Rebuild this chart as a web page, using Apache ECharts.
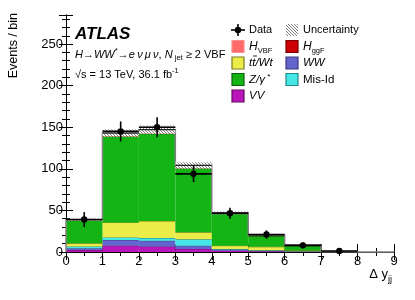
<!DOCTYPE html>
<html><head><meta charset="utf-8">
<script src="https://cdn.jsdelivr.net/npm/echarts@6/dist/echarts.min.js"></script>
<style>html,body{margin:0;padding:0;background:#fff}#c{width:415px;height:300px}</style>
</head><body><div id="c"></div>
<script>
// ---- data ----
const binLo = [0, 1, 2, 3, 4, 5, 6, 7, 8];
const binHi = [1, 2, 3, 4, 5, 6, 7, 8, 9];
const vvVals    = [2.3, 7.5, 6.5, 3.6, 1.5, 0.8, 0.3, 0.05, 0];
const wwVals    = [2.3, 7.0, 7.0, 4.0, 1.5, 1.0, 0.5, 0.1, 0];
const misidVals = [2.0, 3.0, 3.2, 7.6, 0.6, 0.4, 0.2, 0.0, 0];
const ttbarVals = [3.8, 18.0, 20.5, 8.5, 4.0, 4.0, 0.7, 0.1, 0];
const zVals     = [27.5, 103.5, 105.0, 77.0, 38.0, 13.0, 5.8, 0.3, 0.05];
const hggfVals  = [0.6, 2.5, 3.0, 2.0, 0.6, 0.3, 0.1, 0.0, 0];
const hvbfVals  = [0.4, 1.5, 2.0, 1.5, 0.8, 0.7, 0.4, 0.1, 0];
const uncVals   = [1.2, 4.2, 5.0, 3.8, 1.6, 1.0, 0.5, 0.2, 0];
const dataX     = [0.5, 1.5, 2.5, 3.5, 4.5, 5.5, 6.5, 7.5];
const dataVals  = [39, 145, 150, 94, 46.6, 21, 8, 1.2];
const dataErr   = [9, 12, 12, 10, 6.5, 5, 3.5, 1.5];
const yTicks = [0, 50, 100, 150, 200, 250];
const xTicks = [0, 1, 2, 3, 4, 5, 6, 7, 8, 9];

// ---- styles ----
const procs = [
  {vals: vvVals,    fill: '#bb16bb', stroke: '#6a0a6a'},
  {vals: wwVals,    fill: '#6464cf', stroke: '#30306a'},
  {vals: misidVals, fill: '#44e6e6', stroke: '#1c7a7a'},
  {vals: ttbarVals, fill: '#ecec48', stroke: '#6e6e10'},
  {vals: zVals,     fill: '#14b414', stroke: '#0a5a0a'},
  {vals: hggfVals,  fill: '#cc0000', stroke: '#660000'},
  {vals: hvbfVals,  fill: '#ff6b6b', stroke: '#aa3030'}
];
const FONT = '"Liberation Sans", Arial, Helvetica, sans-serif';

function hatchCanvas() {
  const c = document.createElement('canvas'); c.width = 3; c.height = 3;
  const g = c.getContext('2d');
  g.fillStyle = '#fff'; g.fillRect(0, 0, 3, 3);
  g.strokeStyle = '#707070'; g.lineWidth = 0.9;
  g.beginPath();
  g.moveTo(0, 0); g.lineTo(3, 3);
  g.moveTo(-1, 2); g.lineTo(1, 4);
  g.moveTo(2, -1); g.lineTo(4, 1);
  g.stroke();
  return c;
}
const hatch = {image: hatchCanvas(), repeat: 'repeat'};

// cumulative stack
const base = binLo.map(() => 0);
const series = [];
procs.forEach(p => {
  const items = binLo.map((lo, i) => {
    const b = base[i], t = b + p.vals[i];
    base[i] = t;
    return [lo, binHi[i], b, t];
  });
  series.push({
    type: 'custom', coordinateSystem: 'cartesian2d', data: items,
    encode: {x: [0, 1], y: [2, 3]},
    renderItem: (params, api) => {
      const p0 = api.coord([api.value(0), api.value(2)]);
      const p1 = api.coord([api.value(1), api.value(3)]);
      const h = p0[1] - p1[1];
      if (h <= 0.05) return null;
      return {type: 'group', children: [
        {type: 'rect', shape: {x: p0[0], y: p1[1], width: p1[0] - p0[0], height: h},
         style: {fill: p.fill}},
        {type: 'line', shape: {x1: p0[0], y1: p1[1], x2: p1[0], y2: p1[1]},
         style: {stroke: p.stroke, lineWidth: 0.8}}
      ]};
    }
  });
});
const totals = base.slice();

// total outline (grey edges)
series.push({
  type: 'custom', coordinateSystem: 'cartesian2d', data: [[0, 0]],
  renderItem: (params, api) => {
    const pts = [api.coord([binLo[0], 0])];
    binLo.forEach((lo, i) => {
      pts.push(api.coord([lo, totals[i]]));
      pts.push(api.coord([binHi[i], totals[i]]));
    });
    pts.push(api.coord([binHi[binHi.length - 1], 0]));
    return {type: 'polyline', shape: {points: pts}, style: {stroke: '#808080', lineWidth: 1.5, fill: null}};
  }
});

// uncertainty band
series.push({
  type: 'custom', coordinateSystem: 'cartesian2d',
  data: binLo.map((lo, i) => [lo, binHi[i], totals[i] - uncVals[i], totals[i] + uncVals[i], totals[i]]),
  encode: {x: [0, 1], y: [2, 3]},
  renderItem: (params, api) => {
    const p0 = api.coord([api.value(0), api.value(2)]);
    const p1 = api.coord([api.value(1), api.value(3)]);
    const pt = api.coord([api.value(0), api.value(4)]);
    if (p0[1] - p1[1] < 0.5) return null;
    return {type: 'group', children: [
      {type: 'rect', shape: {x: p0[0], y: p1[1], width: p1[0] - p0[0], height: p0[1] - p1[1]},
       style: {fill: hatch}},
      {type: 'line', shape: {x1: p0[0], y1: pt[1], x2: p1[0], y2: pt[1]},
       style: {stroke: '#222', lineWidth: 1.3}}
    ]};
  }
});

// data points
series.push({
  type: 'custom', coordinateSystem: 'cartesian2d',
  data: dataX.map((x, i) => [x, dataVals[i], dataErr[i], binLo[i], binHi[i]]),
  encode: {x: 0, y: 1},
  renderItem: (params, api) => {
    const c = api.coord([api.value(0), api.value(1)]);
    const lo = api.coord([api.value(3), api.value(1)]);
    const hi = api.coord([api.value(4), api.value(1)]);
    const eLo = api.coord([api.value(0), Math.max(0, api.value(1) - api.value(2))]);
    const eHi = api.coord([api.value(0), api.value(1) + api.value(2)]);
    return {type: 'group', children: [
      {type: 'line', shape: {x1: lo[0], y1: c[1], x2: hi[0], y2: c[1]}, style: {stroke: '#000', lineWidth: 1.6}},
      {type: 'line', shape: {x1: c[0], y1: eLo[1], x2: c[0], y2: eHi[1]}, style: {stroke: '#000', lineWidth: 1.6}},
      {type: 'circle', shape: {cx: c[0], cy: c[1], r: 3.2}, style: {fill: '#000'}}
    ]};
  }
});

// ---- text helpers ----
const mctx = document.createElement('canvas').getContext('2d');
function fnt(s, it, b) { return (it ? 'italic ' : '') + (b ? 'bold ' : '') + s + 'px ' + FONT; }
function runs(x, y, parts) {
  const els = []; let cx = x;
  parts.forEach(p => {
    const f = fnt(p.s, p.i, p.b);
    mctx.font = f;
    const w = mctx.measureText(p.t).width;
    els.push({type: 'text', x: cx, y: y + (p.dy || 0),
      style: {text: p.t, font: f, fill: '#000', align: 'left', verticalAlign: 'middle'}});
    p._x = cx; p._w = w;
    cx += w + (p.gap || 0);
  });
  return els;
}

const graphics = [];
// y axis title
graphics.push({type: 'text', x: 14, y: 13, rotation: Math.PI / 2,
  style: {text: 'Events / bin', font: fnt(12.5), fill: '#000', align: 'right', verticalAlign: 'middle'}});
// x axis title
{
  mctx.font = fnt(13);
  const w1 = mctx.measureText('\u0394 y').width;
  graphics.push(...runs(388 - w1, 274, [
    {t: '\u0394 y', s: 13},
    {t: 'jj', s: 9, dy: 6}
  ]));
}
// ATLAS label
graphics.push(...runs(75, 34, [{t: 'ATLAS', s: 17, i: true, b: true}]));
graphics.push(...runs(75, 55, [
  {t: 'H', s: 11, i: true}, {t: '\u2192', s: 11}, {t: 'WW', s: 11, i: true},
  {t: '*', s: 8, dy: -4}, {t: '\u2192', s: 11}, {t: 'e\u2009\u03bd\u2009\u03bc\u2009\u03bd', s: 11, i: true},
  {t: ', ', s: 11}, {t: 'N', s: 11, i: true}, {t: ' jet', s: 7.5, dy: 3},
  {t: ' \u2265 2 VBF', s: 11}
]));
graphics.push(...runs(75, 75, [
  {t: '\u221as = 13 TeV, 36.1 fb', s: 11}, {t: '-1', s: 7.5, dy: -4}
]));

// legend
const rowY = [30, 46.5, 63, 79.5, 96];
const c1x = 232, c2x = 286, bw = 12, bh = 12;
function box(x, y, fill, stroke) {
  graphics.push({type: 'rect', shape: {x: x, y: y - bh / 2, width: bw, height: bh},
    style: {fill: fill, stroke: stroke, lineWidth: 1.2}});
}
// Data
graphics.push({type: 'line', shape: {x1: c1x - 1, y1: rowY[0], x2: c1x + bw + 1, y2: rowY[0]}, style: {stroke: '#000', lineWidth: 1.6}});
graphics.push({type: 'line', shape: {x1: c1x + bw / 2, y1: rowY[0] - 6, x2: c1x + bw / 2, y2: rowY[0] + 6}, style: {stroke: '#000', lineWidth: 1.6}});
graphics.push({type: 'circle', shape: {cx: c1x + bw / 2, cy: rowY[0], r: 3.2}, style: {fill: '#000'}});
graphics.push(...runs(c1x + 17, rowY[0], [{t: 'Data', s: 11}]));
// Uncertainty
graphics.push({type: 'rect', shape: {x: c2x, y: rowY[0] - bh / 2, width: bw, height: bh}, style: {fill: hatch}});
graphics.push(...runs(c2x + 17, rowY[0], [{t: 'Uncertainty', s: 11}]));
// H VBF / H ggF
box(c1x, rowY[1], '#ff6b6b', '#ff8e8e');
graphics.push(...runs(c1x + 17, rowY[1], [{t: 'H', s: 12, i: true}, {t: 'VBF', s: 7.5, dy: 4}]));
box(c2x, rowY[1], '#cc0000', '#7a0000');
graphics.push(...runs(c2x + 17, rowY[1], [{t: 'H', s: 12, i: true}, {t: 'ggF', s: 7.5, dy: 4}]));
// ttbar / WW
box(c1x, rowY[2], '#ecec48', '#7a7a20');
{
  const parts = [{t: 't', s: 11.5, i: true}, {t: 't', s: 11.5, i: true}, {t: '/Wt', s: 11.5, i: true}];
  graphics.push(...runs(c1x + 17, rowY[2], parts));
  graphics.push({type: 'line', shape: {x1: parts[1]._x + 1, y1: rowY[2] - 7, x2: parts[1]._x + parts[1]._w + 1.5, y2: rowY[2] - 7},
    style: {stroke: '#000', lineWidth: 0.9}});
}
box(c2x, rowY[2], '#6464cf', '#3a3a80');
graphics.push(...runs(c2x + 17, rowY[2], [{t: 'WW', s: 11.5, i: true}]));
// Z / Mis-Id
box(c1x, rowY[3], '#14b414', '#0a600a');
graphics.push(...runs(c1x + 17, rowY[3], [{t: 'Z/\u03b3', s: 11.5, i: true}, {t: ' *', s: 8, dy: -3}]));
box(c2x, rowY[3], '#44e6e6', '#208888');
graphics.push(...runs(c2x + 17, rowY[3], [{t: 'Mis-Id', s: 11.5}]));
// VV
box(c1x, rowY[4], '#bb16bb', '#600a60');
graphics.push(...runs(c1x + 17, rowY[4], [{t: 'VV', s: 11.5, i: true}]));

// ---- axes ----
const axLine = {show: true, lineStyle: {color: '#000', width: 1}};
function xAx(pos, labels) {
  return {type: 'value', position: pos, min: xTicks[0], max: xTicks[xTicks.length - 1], interval: 1,
    axisLine: axLine, splitLine: {show: false},
    axisTick: {show: true, inside: true, length: 8, lineStyle: {color: '#000'}},
    minorTick: {show: true, splitNumber: 2, length: 4, lineStyle: {color: '#000'}},
    axisLabel: {show: labels, margin: 3, fontSize: 13, fontFamily: FONT, color: '#000'}};
}
function yAx(pos, labels) {
  return {type: 'value', position: pos, min: yTicks[0], max: 285, interval: 50,
    axisLine: axLine, splitLine: {show: false},
    axisTick: {show: true, inside: true, length: 7, lineStyle: {color: '#000'}},
    minorTick: {show: true, splitNumber: 5, length: 4, lineStyle: {color: '#000'}},
    axisLabel: {show: labels, margin: 3, fontSize: 13, fontFamily: FONT, color: '#000', showMaxLabel: false}};
}

const chart = echarts.init(document.getElementById('c'), null, {renderer: 'canvas'});
chart.setOption({
  animation: false,
  backgroundColor: '#fff',
  grid: {left: 66, right: 21, top: 15, bottom: 48, containLabel: false},
  xAxis: [xAx('bottom', true), xAx('top', false)],
  yAxis: [yAx('left', true), yAx('right', false)],
  series: series,
  graphic: graphics
});
</script></body></html>
